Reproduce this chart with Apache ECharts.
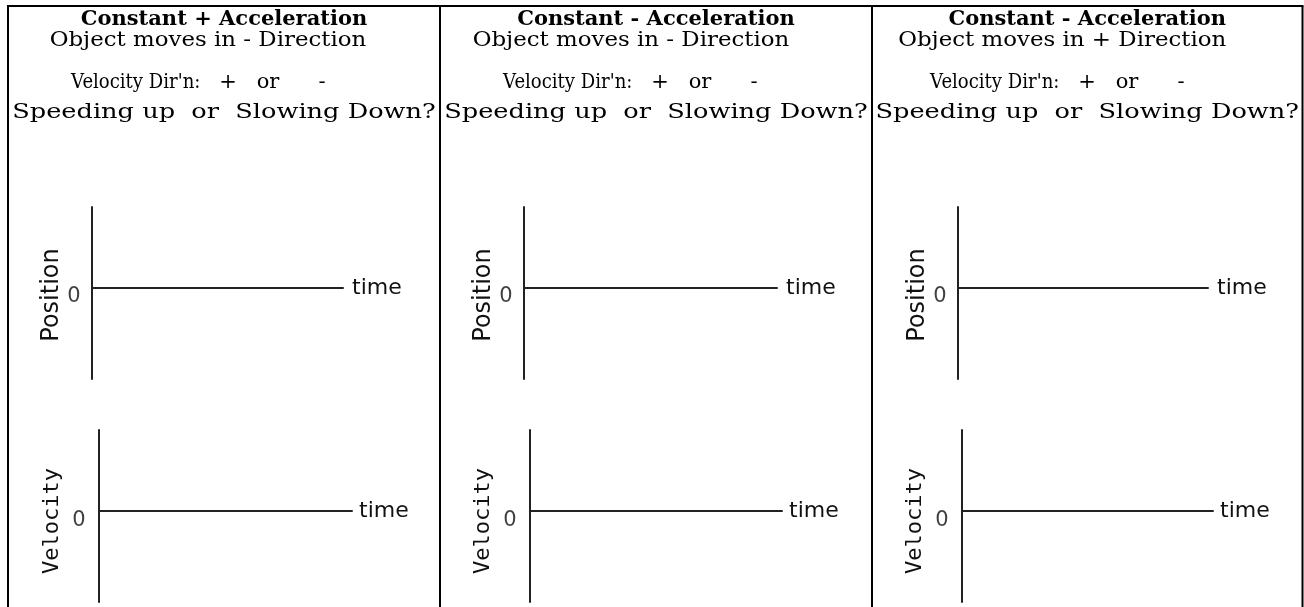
<!DOCTYPE html>
<html>
<head>
<meta charset="utf-8">
<script src="https://cdn.jsdelivr.net/npm/echarts@6/dist/echarts.min.js"></script>
<style>
html,body{margin:0;padding:0;background:#fff;}
#chart{width:1304px;height:607px;}
</style>
</head>
<body>
<div id="chart"></div>
<script>
// ---- data / text content ----
const panelTitles = ['Constant + Acceleration', 'Constant - Acceleration', 'Constant - Acceleration'];
const panelMotions = ['Object moves in - Direction', 'Object moves in - Direction', 'Object moves in + Direction'];
const velocityPromptParts = ["Velocity Dir'n:", '+', 'or', '-'];
const speedPrompt = 'Speeding up  or  Slowing Down?';
const graphNames = ['Position', 'Velocity'];
const timeLabel = 'time';
const zeroLabel = '0';
const originPoint = [[0, 0]];
const timeRange = [0, 1];
const valueRange = [-1.12, 1];

// ---- layout ----
const panelEdges = [8, 440, 872, 1302.5];
const borderTop = 6;
const subtitleShift = [-16, -25, -25];
const promptStart = [63, 63, 58];
const promptCenters = [null, 157, 197, 251]; // relative to prompt start
const graphBoxes = [
  [{x: 92, top: 207, end: 343, bottom: 379}, {x: 99, top: 430, end: 352, bottom: 602}],
  [{x: 524, top: 207, end: 777, bottom: 379}, {x: 530, top: 430, end: 782, bottom: 602}],
  [{x: 958, top: 207, end: 1208, bottom: 379}, {x: 962, top: 430, end: 1213, bottom: 602}]
];
const nameStyles = [
  {font: 'DejaVu Sans', size: 24, gap: 28, pad: [0, 4, 0, 0], zeroGap: 11, zeroShift: 8, timeGap: 9},
  {font: 'DejaVu Sans Mono', size: 22, gap: 36, pad: [0, 10, 0, 0], zeroGap: 13, zeroShift: 9, timeGap: 7}
];
const serif = '"DejaVu Serif"';
const graphFont = 'DejaVu Sans';

const chart = echarts.init(document.getElementById('chart'), null, {renderer: 'canvas'});

const grids = [], xAxes = [], yAxes = [], series = [];
graphBoxes.forEach((pair, p) => {
  pair.forEach((b, g) => {
    const idx = grids.length;
    const ns = nameStyles[g];
    grids.push({left: b.x, top: b.top, width: b.end - b.x, height: b.bottom - b.top, containLabel: false});
    xAxes.push({
      gridIndex: idx, type: 'value', min: timeRange[0], max: timeRange[1],
      axisLine: {show: true, onZero: true, lineStyle: {color: '#222', width: 2}},
      axisTick: {show: false}, axisLabel: {show: false}, splitLine: {show: false},
      name: timeLabel, nameLocation: 'end', nameGap: ns.timeGap,
      nameTextStyle: {fontFamily: graphFont, fontSize: 22, color: '#111', verticalAlign: 'middle'}
    });
    yAxes.push({
      gridIndex: idx, type: 'value', min: valueRange[0], max: valueRange[1],
      axisLine: {show: true, onZero: false, lineStyle: {color: '#222', width: 2}},
      axisTick: {show: false}, axisLabel: {show: false}, splitLine: {show: false},
      name: graphNames[g], nameLocation: 'middle', nameRotate: 90, nameGap: ns.gap,
      nameTextStyle: {fontFamily: ns.font, fontSize: ns.size, color: '#111', padding: ns.pad}
    });
    series.push({
      type: 'scatter', xAxisIndex: idx, yAxisIndex: idx, data: originPoint,
      symbolSize: 1, itemStyle: {color: 'rgba(0,0,0,0)'}, silent: true,
      label: {show: true, position: 'left', distance: ns.zeroGap, offset: [0, ns.zeroShift], formatter: zeroLabel,
        fontFamily: graphFont, fontSize: 21, color: '#111'}
    });
  });
});

const graphics = [];
// borders
graphics.push({type: 'line', shape: {x1: panelEdges[0] - 1, y1: borderTop, x2: panelEdges[3] + 1, y2: borderTop},
  style: {stroke: '#000', lineWidth: 2}});
panelEdges.forEach(x => {
  graphics.push({type: 'line', shape: {x1: x, y1: borderTop, x2: x, y2: 610}, style: {stroke: '#000', lineWidth: 2}});
});
function addText(text, x, y, font, align, scaleX) {
  graphics.push({type: 'text', x: x, y: y, scaleX: scaleX || 1,
    style: {text: text, x: 0, y: 0, align: align, verticalAlign: 'middle', font: font, fill: '#000'}});
}
// panel texts
for (let p = 0; p < 3; p++) {
  const l = panelEdges[p], r = panelEdges[p + 1], c = (l + r) / 2;
  addText(panelTitles[p], c, 20, 'bold 20px ' + serif, 'center', 1.05);
  addText(panelMotions[p], c + subtitleShift[p], 40.5, '21px ' + serif, 'center', 1.09);
  const s = l + promptStart[p];
  addText(velocityPromptParts[0], s, 83, '21px ' + serif, 'left', 0.86);
  for (let k = 1; k < velocityPromptParts.length; k++) {
    addText(velocityPromptParts[k], s + promptCenters[k], 83, '21px ' + serif, 'center', 1);
  }
  addText(speedPrompt, c, 112.5, '21px ' + serif, 'center', 1.22);
}

chart.setOption({
  animation: false,
  backgroundColor: '#fff',
  grid: grids, xAxis: xAxes, yAxis: yAxes, series: series,
  graphic: graphics
});
</script>
</body>
</html>
